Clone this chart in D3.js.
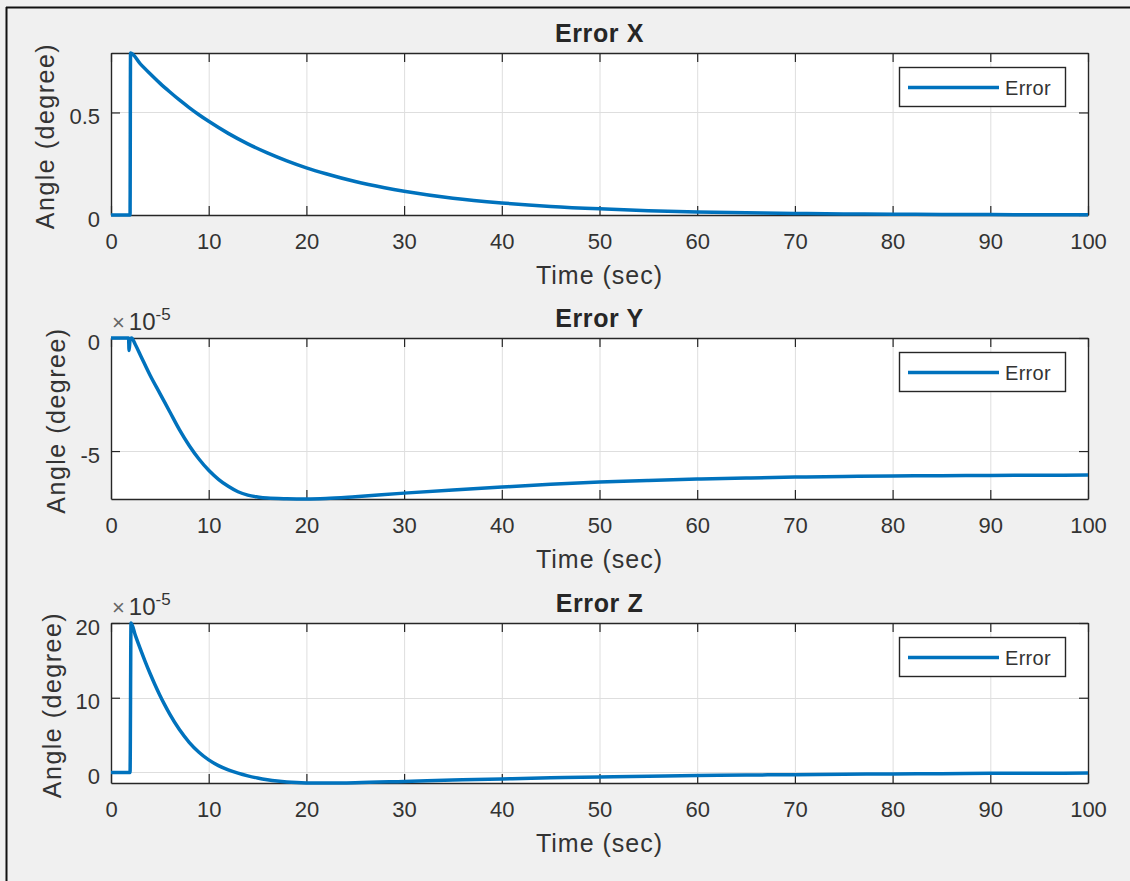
<!DOCTYPE html>
<html><head><meta charset="utf-8">
<script src="https://cdn.jsdelivr.net/npm/d3@7"></script>
<style>
html,body{margin:0;padding:0;background:#f0f0f0;}
svg{display:block;font-family:"Liberation Sans",Arial,Helvetica,sans-serif;}
</style>
</head><body>
<svg id="chart" width="1130" height="881"></svg>
<script>
// ---------------- data ----------------
const xTicks = [0,10,20,30,40,50,60,70,80,90,100];
const titles = ["Error X","Error Y","Error Z"];
const xLabel = "Time (sec)";
const yLabel = "Angle (degree)";
const legendLabel = "Error";

// Error X (degree)
const timeX  = [0,1.95,2.0,3,4,5,6,7,8,9,10,12,14,16,18,20,22,25,28,30,35,40,45,50,55,60,65,70,75,80,85,90,95,100];
const errorX = [0,0,0.79,0.737,0.689,0.643,0.601,0.561,0.524,0.489,0.457,0.398,0.347,0.303,0.264,0.230,0.201,0.163,0.133,0.116,0.082,0.059,0.042,0.030,0.021,0.015,0.011,0.0075,0.0054,0.0038,0.0027,0.0019,0.0013,0.001];
const yTicksX = [0,0.5];

// Error Y (x 1e-5 degree)
const timeY  = [0,1.8,1.85,1.95,2.1,2.5,3,4,5,6,7,8,9,10,11,12,13,14,15,16,18,20,22,25,30,35,40,45,50,55,60,65,70,75,80,85,90,95,100];
const errorY = [0,0,-0.55,-0.1,0,-0.3,-0.75,-1.65,-2.45,-3.25,-4.05,-4.75,-5.35,-5.85,-6.25,-6.56,-6.80,-6.95,-7.03,-7.08,-7.11,-7.12,-7.10,-7.02,-6.86,-6.72,-6.59,-6.47,-6.37,-6.30,-6.24,-6.19,-6.15,-6.12,-6.10,-6.09,-6.08,-6.07,-6.06];
const yTicksY = [-5,0];

// Error Z (x 1e-5 degree)
const timeZ  = [0,1.95,2.05,2.5,3,3.5,4,4.5,5,5.5,6,7,8,9,10,11,12,13,14,15,16,17,18,19,20,21,22,25,30,35,40,45,50,55,60,65,70,75,80,85,90,95,100];
const errorZ = [0,0,20,18.31,16.54,14.84,13.24,11.74,10.34,9.04,7.84,5.74,4.04,2.71,1.69,0.92,0.35,-0.09,-0.45,-0.74,-0.97,-1.145,-1.27,-1.35,-1.395,-1.41,-1.41,-1.37,-1.2,-1.02,-0.86,-0.72,-0.6,-0.5,-0.42,-0.35,-0.29,-0.24,-0.2,-0.16,-0.12,-0.1,-0.08];
const yTicksZ = [0,10,20];

const exponents = [null, -5, -5];

// ---------------- layout ----------------
const svg = d3.select("#chart");
const W = 1130, H = 881;
const plotLeft = 111, plotRight = 1088;
const panelTops = [53, 338, 623];
const panelBottoms = [215, 499, 783];
const textColor = "#262626";
const lineColor = "#0072BD";
const gridColor = "#dedede";

svg.append("rect").attr("width", W).attr("height", H).attr("fill", "#f0f0f0");
// figure frame (top and left edges)
svg.append("line").attr("x1",6).attr("x2",W).attr("y1",7.5).attr("y2",7.5).attr("stroke","#111").attr("stroke-width",2);
svg.append("line").attr("x1",6.5).attr("x2",6.5).attr("y1",7).attr("y2",H).attr("stroke","#111").attr("stroke-width",2);

const panels = [
  {t: timeX, v: errorX, ticks: yTicksX},
  {t: timeY, v: errorY, ticks: yTicksY},
  {t: timeZ, v: errorZ, ticks: yTicksZ}
];

const x = d3.scaleLinear().domain([0,100]).range([plotLeft, plotRight]);

panels.forEach((p, i) => {
  const top = panelTops[i], bottom = panelBottoms[i];
  const y = d3.scaleLinear().domain(d3.extent(p.v)).range([bottom, top]);
  const g = svg.append("g");

  // plot background
  g.append("rect").attr("x", plotLeft).attr("y", top)
    .attr("width", plotRight - plotLeft).attr("height", bottom - top).attr("fill", "#fff");

  // grid
  g.append("g").selectAll("line").data(xTicks.filter(d => d > 0 && d < 100)).join("line")
    .attr("x1", d => x(d) + 0.5).attr("x2", d => x(d) + 0.5)
    .attr("y1", top).attr("y2", bottom).attr("stroke", gridColor).attr("stroke-width", 1);
  const yd = y.domain();
  g.append("g").selectAll("line").data(p.ticks.filter(d => d > yd[0] && d < yd[1])).join("line")
    .attr("x1", plotLeft).attr("x2", plotRight)
    .attr("y1", d => Math.round(y(d)) + 0.5).attr("y2", d => Math.round(y(d)) + 0.5)
    .attr("stroke", gridColor).attr("stroke-width", 1);

  // axes
  const styleAxis = sel => {
    sel.attr("font-family", null).attr("font-size", 22);
    sel.selectAll("path.domain").attr("stroke", textColor).attr("stroke-width", 1.4);
    sel.selectAll(".tick line").attr("stroke", textColor).attr("stroke-width", 1.2);
    sel.selectAll(".tick text").attr("fill", "#333");
  };
  g.append("g").attr("transform", `translate(0,${bottom})`)
    .call(d3.axisBottom(x).tickValues(xTicks).tickSize(-9).tickSizeOuter(0).tickPadding(18.5).tickFormat(d3.format("d")))
    .call(styleAxis);
  g.append("g").attr("transform", `translate(0,${top})`)
    .call(d3.axisTop(x).tickValues(xTicks).tickSize(-9).tickSizeOuter(0).tickFormat(""))
    .call(styleAxis);
  const axL = g.append("g").attr("transform", `translate(${plotLeft},0)`)
    .call(d3.axisLeft(y).tickValues(p.ticks).tickSize(-9).tickSizeOuter(0).tickPadding(11).tickFormat(d => String(d)))
    .call(styleAxis);
  axL.selectAll(".tick text").attr("dy", "0.5em");
  g.append("g").attr("transform", `translate(${plotRight},0)`)
    .call(d3.axisRight(y).tickValues(p.ticks).tickSize(-9).tickSizeOuter(0).tickFormat(""))
    .call(styleAxis);

  // exponent
  if (exponents[i] !== null) {
    const ex = g.append("text").attr("x", plotLeft + 1).attr("y", top - 8)
      .attr("font-size", 24).attr("fill", "#333");
    ex.append("tspan").attr("fill", "#666").attr("font-size", 22).text("\u00d7");
    ex.append("tspan").attr("dx", 4).text("10");
    ex.append("tspan").attr("dy", -10).attr("font-size", 17).text(String(exponents[i]));
  }

  // title
  g.append("text").attr("x", (plotLeft + plotRight) / 2).attr("y", top - 11)
    .attr("text-anchor", "middle").attr("font-size", 25).attr("font-weight", "bold")
    .attr("letter-spacing", 0.6).attr("fill", textColor).text(titles[i]);

  // x label
  g.append("text").attr("x", (plotLeft + plotRight) / 2).attr("y", bottom + 69)
    .attr("text-anchor", "middle").attr("font-size", 25).attr("letter-spacing", 1)
    .attr("fill", "#333").text(xLabel);

  // y label, placed left of tick labels
  let minLeft = plotLeft;
  axL.selectAll(".tick text").each(function() {
    const b = this.getBBox();
    minLeft = Math.min(minLeft, plotLeft + b.x);
  });
  const ly = (top + bottom) / 2 + 2;
  g.append("text").attr("transform", `translate(${minLeft - 15},${ly}) rotate(-90)`)
    .attr("text-anchor", "middle").attr("font-size", 25).attr("letter-spacing", 1.5)
    .attr("fill", "#333").text(yLabel);

  // data line
  const line = d3.line().x((d, k) => x(p.t[k])).y(d => y(d)).curve(d3.curveMonotoneX);
  g.append("path").datum(p.v).attr("d", line)
    .attr("fill", "none").attr("stroke", lineColor).attr("stroke-width", 3.5)
    .attr("stroke-linejoin", "round").attr("stroke-linecap", "butt");

  // legend
  const lx0 = plotRight - 189, lx1 = plotRight - 23, ly0 = top + 14, ly1 = top + 53;
  const lg = g.append("g");
  lg.append("rect").attr("x", lx0 + 0.5).attr("y", ly0 + 0.5)
    .attr("width", lx1 - lx0).attr("height", ly1 - ly0)
    .attr("fill", "#fff").attr("stroke", textColor).attr("stroke-width", 1.4);
  const lcy = (ly0 + ly1) / 2 + 1;
  lg.append("line").attr("x1", lx0 + 9).attr("x2", lx0 + 100).attr("y1", lcy).attr("y2", lcy)
    .attr("stroke", lineColor).attr("stroke-width", 3.5);
  lg.append("text").attr("x", lx0 + 106).attr("y", lcy + 7)
    .attr("font-size", 20).attr("letter-spacing", 0.3).attr("fill", "#333").text(legendLabel);
});
</script>
</body></html>
